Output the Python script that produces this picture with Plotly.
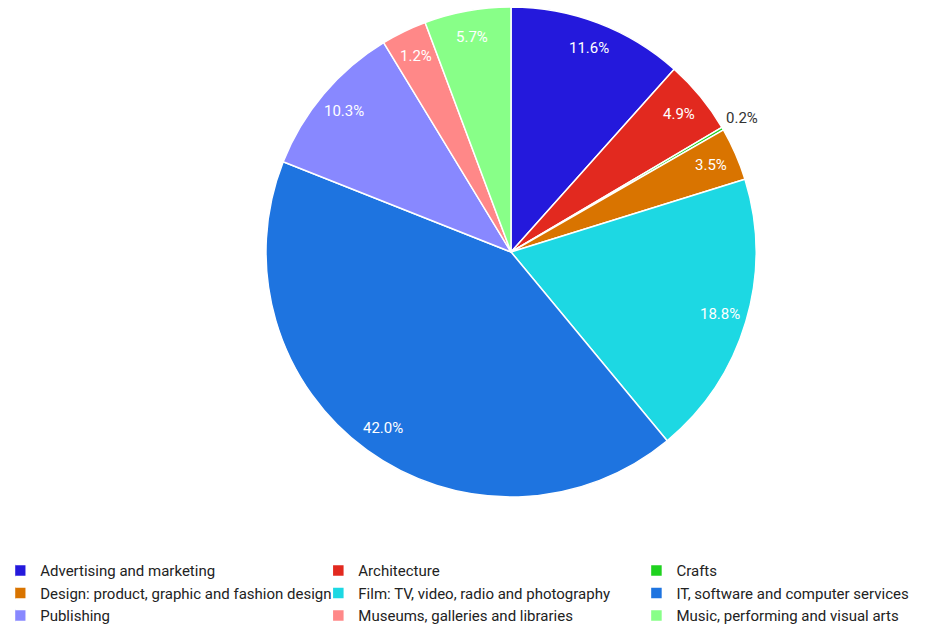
import math
import plotly.graph_objects as go

categories = [
    "Advertising and marketing",
    "Architecture",
    "Crafts",
    "Design: product, graphic and fashion design",
    "Film: TV, video, radio and photography",
    "IT, software and computer services",
    "Publishing",
    "Museums, galleries and libraries",
    "Music, performing and visual arts",
]
values = [11.6, 4.9, 0.2, 3.5, 18.8, 42.0, 10.3, 3.0, 5.7]
slice_labels = ["11.6%", "4.9%", "0.2%", "3.5%", "18.8%", "42.0%", "10.3%", "1.2%", "5.7%"]
label_outside = [False, False, True, False, False, False, False, False, False]
colors = ["#2419dc", "#e2291f", "#1fd21f", "#d97400", "#1dd8e3",
          "#1e74e0", "#8888ff", "#ff8888", "#88ff88"]

W, H = 951, 634
M_T, M_B = 7, 137
plot_h = H - M_T - M_B
cx_px = 511
cx = cx_px / W
half_w = (plot_h / 2) / W
dom_x = [cx - half_w, cx + half_w]
r_x = (plot_h / 2) / W   # radius in paper-x units
r_y = 0.5                # radius in paper-y units

fig = go.Figure(go.Pie(
    labels=categories,
    values=values,
    textinfo="none",
    sort=False,
    direction="clockwise",
    rotation=0,
    marker=dict(colors=colors, line=dict(color="white", width=1.5)),
    domain=dict(x=dom_x, y=[0, 1]),
    hoverinfo="label+percent",
))

total = sum(values)
cum = 0.0
annotations = []
for v, txt, outside in zip(values, slice_labels, label_outside):
    mid = (cum + v / 2) / total * 2 * math.pi
    cum += v
    k = 1.09 if outside else 0.89
    annotations.append(dict(
        x=cx + k * r_x * math.sin(mid),
        y=0.5 + k * r_y * math.cos(mid),
        xref="paper", yref="paper",
        xanchor="center", yanchor="middle",
        text=txt, showarrow=False,
        font=dict(size=15, color="#333333" if outside else "white"),
    ))

fig.update_layout(
    width=W, height=H,
    margin=dict(l=0, r=0, t=M_T, b=M_B, autoexpand=False),
    paper_bgcolor="white",
    font=dict(family="Roboto", size=15, color="#222222"),
    showlegend=True,
    annotations=annotations,
    legend=dict(
        orientation="h",
        x=0.016, xanchor="left",
        y=-0.117, yanchor="top",
        entrywidth=0.3345, entrywidthmode="fraction",
        traceorder="normal",
        itemwidth=30,
        indentation=-15,
        font=dict(size=15),
    ),
)

fig.write_html("out.html", config={"displayModeBar": False},
               post_script="document.body.style.margin='0';")
